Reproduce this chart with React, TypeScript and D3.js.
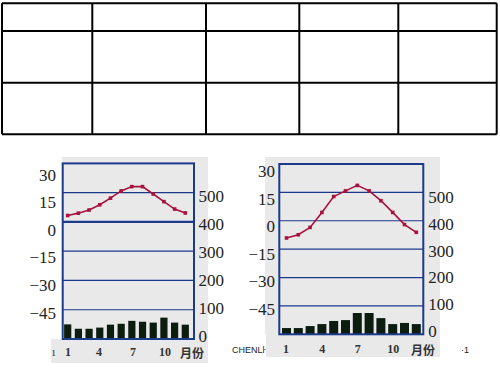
import React from "react";
import * as d3 from "d3";

const months = [1, 2, 3, 4, 5, 6, 7, 8, 9, 10, 11, 12];
const monthTicks = ["1", "4", "7", "10"];
const tempTicks = [30, 15, 0, -15, -30, -45];
const precipTicks = [500, 400, 300, 200, 100, 0];

const leftTemp = [3.3, 4.5, 6.1, 8.8, 12.2, 15.9, 18.1, 18.1, 14.3, 10.4, 6.6, 4.6];
const leftPrecip = [50, 35, 35, 39, 49, 52, 62, 59, 56, 73, 56, 49];
const rightTemp = [-9.1, -7.4, -3.5, 4.4, 12.8, 15.8, 18.7, 15.8, 10.6, 4.4, -2.0, -6.1];
const rightPrecip = [22, 22, 29, 36, 47, 50, 75, 75, 57, 36, 40, 36];

const tableCols = [2, 92.3, 206, 299.3, 398.3, 496.7];
const tableRows = [3.3, 31, 82.7, 134.3];

const fmt = (v: number) => (v < 0 ? "\u2212" + Math.abs(v) : String(v));

type ChartProps = {
  temp: number[];
  precip: number[];
  box: { x0: number; x1: number; y0: number; y1: number };
  pts: [number, number];
  barW: number;
  bg: { x0: number; x1: number; y0: number; y1: number };
  band: { x0: number; x1: number; y0: number; y1: number };
  leftLab: { x: number; y30: number; yn45: number };
  rightLab: { x: number; y500: number; y0: number };
  xLabY: number;
  xLabPos: number[];
  moX: number;
  thickZero: boolean;
};

function Chart(p: ChartProps) {
  const { box } = p;
  const yT = d3.scaleLinear().domain([30, -60]).range([box.y0, box.y1]);
  const yP = d3.scaleLinear().domain([600, 0]).range([box.y0, box.y1]);
  const x = d3.scalePoint<number>().domain(months).range(p.pts);
  const labT = d3.scaleLinear().domain([30, -45]).range([p.leftLab.y30, p.leftLab.yn45]);
  const labP = d3.scaleLinear().domain([500, 0]).range([p.rightLab.y500, p.rightLab.y0]);
  const line = d3
    .line<number>()
    .x((_, i) => x(months[i]) as number)
    .y((d) => yT(d));
  const blue = "#1c3a8c";
  return (
    <g>
      <rect x={p.bg.x0} y={p.bg.y0} width={p.bg.x1 - p.bg.x0} height={p.bg.y1 - p.bg.y0} fill="#e9e9e9" />
      <rect x={p.band.x0} y={p.band.y0} width={p.band.x1 - p.band.x0} height={p.band.y1 - p.band.y0} fill="#e9e9e9" />
      {tempTicks.slice(1).map((t) => (
        <line
          key={t}
          x1={box.x0}
          x2={box.x1}
          y1={yT(t)}
          y2={yT(t)}
          stroke={blue}
          strokeWidth={t === 0 && p.thickZero ? 2.2 : 1.2}
        />
      ))}
      {p.precip.map((v, i) => (
        <rect
          key={i}
          x={(x(months[i]) as number) - p.barW / 2}
          y={yP(v)}
          width={p.barW}
          height={yP(0) - yP(v)}
          fill="#0c1d10"
        />
      ))}
      <path d={line(p.temp) || ""} fill="none" stroke="#a8123f" strokeWidth={1.6} />
      {p.temp.map((v, i) => (
        <rect key={i} x={(x(months[i]) as number) - 1.8} y={yT(v) - 1.8} width={3.6} height={3.6} fill="#a8123f" />
      ))}
      <rect x={box.x0} y={box.y0} width={box.x1 - box.x0} height={box.y1 - box.y0} fill="none" stroke={blue} strokeWidth={2} />
      {tempTicks.map((t) => (
        <text
          key={t}
          x={p.leftLab.x}
          y={labT(t)}
          textAnchor="end"
          dominantBaseline="central"
          fontFamily="'Liberation Serif', serif"
          fontSize={17}
          fill="#222"
        >
          {fmt(t)}
        </text>
      ))}
      {precipTicks.map((t) => (
        <text
          key={t}
          x={p.rightLab.x}
          y={labP(t)}
          textAnchor="start"
          dominantBaseline="central"
          fontFamily="'Liberation Serif', serif"
          fontSize={17}
          fill="#222"
        >
          {t}
        </text>
      ))}
      {monthTicks.map((m, i) => (
        <text
          key={m}
          x={p.xLabPos[i]}
          y={p.xLabY}
          textAnchor="middle"
          dominantBaseline="central"
          fontFamily="'Liberation Serif', serif"
          fontWeight="bold"
          fontSize={12}
          fill="#333"
        >
          {m}
        </text>
      ))}
      <text
        x={p.moX}
        y={p.xLabY}
        textAnchor="middle"
        dominantBaseline="central"
        fontFamily="'Noto Sans CJK SC', sans-serif"
        fontWeight="bold"
        fontSize={12}
        fill="#333"
      >
        月份
      </text>
    </g>
  );
}

export default function App() {
  return (
    <svg width={500} height={375} style={{ position: "absolute", left: 0, top: 0 }}>
      <rect x={0} y={0} width={500} height={375} fill="#fff" />
      {tableCols.map((c, i) => (
        <line key={"c" + i} x1={c} x2={c} y1={tableRows[0]} y2={tableRows[tableRows.length - 1]} stroke="#000" strokeWidth={2} />
      ))}
      {tableRows.map((r, i) => (
        <line key={"r" + i} x1={tableCols[0]} x2={tableCols[tableCols.length - 1]} y1={r} y2={r} stroke="#000" strokeWidth={2} />
      ))}
      <Chart
        temp={leftTemp}
        precip={leftPrecip}
        box={{ x0: 62.7, x1: 194, y0: 163.4, y1: 339 }}
        pts={[67.7, 185.3]}
        barW={7.2}
        bg={{ x0: 62, x1: 208, y0: 157, y1: 339 }}
        band={{ x0: 51, x1: 208, y0: 339, y1: 363 }}
        leftLab={{ x: 56, y30: 175, yn45: 313 }}
        rightLab={{ x: 198.5, y500: 196, y0: 336.5 }}
        xLabY={352}
        xLabPos={[68, 99, 133, 165]}
        moX={192}
        thickZero={true}
      />
      <Chart
        temp={rightTemp}
        precip={rightPrecip}
        box={{ x0: 279.3, x1: 423.3, y0: 164, y1: 334.3 }}
        pts={[286.5, 416.3]}
        barW={9}
        bg={{ x0: 265, x1: 440, y0: 157, y1: 334 }}
        band={{ x0: 266, x1: 440, y0: 334, y1: 357 }}
        leftLab={{ x: 275, y30: 171.7, yn45: 309.3 }}
        rightLab={{ x: 428.3, y500: 197.3, y0: 331.7 }}
        xLabY={349}
        xLabPos={[286, 322.3, 357.7, 393.3]}
        moX={423}
        thickZero={false}
      />
      <text x={52} y={352} dominantBaseline="central" fontFamily="'Liberation Serif', serif" fontSize={12} fill="#444">ı</text>
      <text x={232} y={350} dominantBaseline="central" fontFamily="'Liberation Sans', sans-serif" fontSize={9} fill="#222">CHENLŀ</text>
      <text x={461} y={350} dominantBaseline="central" fontFamily="'Liberation Sans', sans-serif" fontSize={9} fill="#222">·1</text>
    </svg>
  );
}
